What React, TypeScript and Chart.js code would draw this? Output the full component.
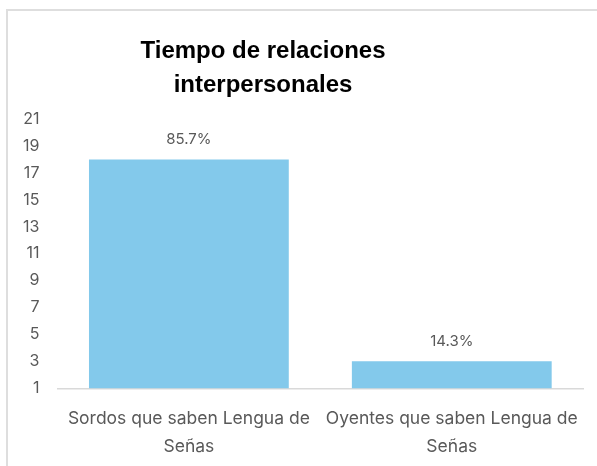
import React, { useEffect, useRef } from "react";
import { Chart, registerables } from "chart.js";

Chart.register(...registerables);

const titleLines = ["Tiempo de relaciones", "interpersonales"];
const categories = [["Sordos que saben Lengua de", "Señas"], ["Oyentes que saben Lengua de", "Señas"]];
const values = [18, 3];
const pctLabels = ["85.7%", "14.3%"];
const yMin = 1;
const yMax = 21;
const yStep = 2;

const barColor = "#83C9EB";
const textGray = "#595959";
const tickFont = "Inter";

const dataLabelPlugin = {
  id: "dataLabels",
  afterDatasetsDraw(chart: any) {
    const ctx = chart.ctx;
    const meta = chart.getDatasetMeta(0);
    ctx.save();
    ctx.font = `15px ${tickFont}`;
    ctx.fillStyle = textGray;
    ctx.textAlign = "center";
    ctx.textBaseline = "middle";
    meta.data.forEach((el: any, i: number) => {
      ctx.fillText(pctLabels[i], el.x, el.y - 20);
    });
    ctx.restore();
  },
};

const titlePlugin = {
  id: "customTitle",
  afterDraw(chart: any) {
    const ctx = chart.ctx;
    ctx.save();
    ctx.font = `bold 24px "Liberation Sans"`;
    ctx.fillStyle = "#000000";
    ctx.textAlign = "center";
    ctx.textBaseline = "middle";
    const cx = 263;
    titleLines.forEach((line, i) => {
      ctx.fillText(line, cx, 51 + i * 34);
    });
    ctx.restore();
  },
};

export default function App() {
  const ref = useRef<HTMLCanvasElement>(null);
  useEffect(() => {
    if (!ref.current) return;
    const chart = new Chart(ref.current, {
      type: "bar",
      data: {
        labels: categories as any,
        datasets: [
          {
            data: values,
            backgroundColor: barColor,
            barPercentage: 1,
            categoryPercentage: 0.76,
          },
        ],
      },
      options: {
        responsive: false,
        animation: false,
        layout: { padding: { left: 5, right: 13, top: 119, bottom: -11 } },
        plugins: {
          legend: { display: false },
          tooltip: { enabled: false },
          title: { display: false },
        },
        scales: {
          x: {
            grid: { display: false, drawTicks: false },
            border: { display: true, color: "#d9d9d9", width: 1.5 },
            ticks: {
              color: textGray,
              font: { family: tickFont, size: 17.5, lineHeight: 1.62 },
              padding: 16,
              maxRotation: 0,
              autoSkip: false,
            },
          },
          y: {
            min: yMin,
            max: yMax,
            grid: { display: false, drawTicks: false },
            border: { display: false },
            ticks: {
              stepSize: yStep,
              color: textGray,
              font: { family: tickFont, size: 16 },
              padding: 18,
            },
          },
        },
      },
      plugins: [dataLabelPlugin, titlePlugin],
    });
    return () => chart.destroy();
  }, []);
  return (
    <div style={{ position: "fixed", left: 0, top: 0, width: 597, height: 466, background: "#fff", overflow: "hidden" }}>
      <div
        style={{
          position: "absolute",
          left: 6,
          top: 9,
          width: 620,
          height: 480,
          borderLeft: "2px solid #dedede",
          borderTop: "2px solid #dedede",
        }}
      />
      <canvas ref={ref} width={597} height={466} style={{ position: "absolute", left: 0, top: 0 }} />
    </div>
  );
}
